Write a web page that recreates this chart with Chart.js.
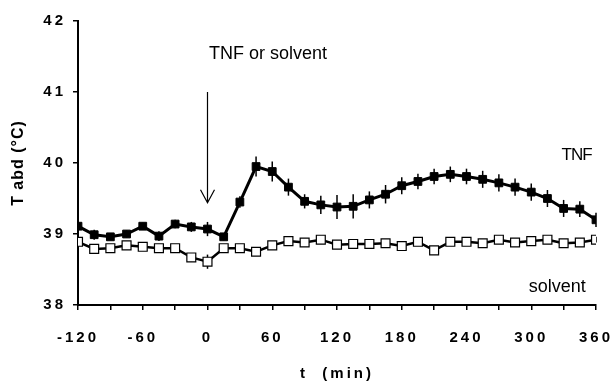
<!DOCTYPE html>
<html>
<head>
<meta charset="utf-8">
<script src="https://cdn.jsdelivr.net/npm/chart.js@4"></script>
<style>
  html, body { margin: 0; padding: 0; background: #fff; }
  #wrap { width: 610px; height: 384px; }
</style>
</head>
<body>
<div id="wrap"><canvas id="tempChart" width="610" height="384"></canvas></div>
<script>
// --- Data ---
const times = [-120, -105, -90, -75, -60, -45, -30, -15, 0, 15, 30, 45, 60, 75, 90, 105, 120,
               135, 150, 165, 180, 195, 210, 225, 240, 255, 270, 285, 300, 315, 330, 345, 360];
const tnfValues = [39.11, 38.99, 38.96, 39.00, 39.11, 38.97, 39.14, 39.10, 39.07, 38.96, 39.45,
                   39.95, 39.88, 39.66, 39.46, 39.41, 39.38, 39.39, 39.48, 39.56, 39.68, 39.74,
                   39.81, 39.84, 39.81, 39.77, 39.72, 39.66, 39.59, 39.50, 39.36, 39.35, 39.20];
const tnfErrors = [0.05, 0.07, 0.04, 0.05, 0.05, 0.07, 0.06, 0.07, 0.10, 0.05, 0.08,
                   0.14, 0.14, 0.12, 0.10, 0.13, 0.17, 0.17, 0.12, 0.13, 0.12, 0.11,
                   0.11, 0.11, 0.11, 0.12, 0.12, 0.12, 0.12, 0.12, 0.12, 0.11, 0.10];
const solventValues = [38.89, 38.79, 38.80, 38.84, 38.82, 38.80, 38.80, 38.67, 38.61, 38.80, 38.80,
                       38.75, 38.84, 38.90, 38.88, 38.92, 38.85, 38.86, 38.86, 38.87, 38.83, 38.89,
                       38.77, 38.89, 38.89, 38.87, 38.92, 38.88, 38.90, 38.92, 38.87, 38.88, 38.92];
const solventErrors = [0.05, 0.05, 0.04, 0.04, 0.04, 0.05, 0.05, 0.06, 0.10, 0.05, 0.05,
                       0.04, 0.04, 0.04, 0.04, 0.04, 0.04, 0.04, 0.04, 0.04, 0.04, 0.04,
                       0.05, 0.04, 0.04, 0.04, 0.04, 0.04, 0.04, 0.04, 0.04, 0.04, 0.04];
const xTickLabels = [-120, -60, 0, 60, 120, 180, 240, 300, 360];
const yTickLabels = [38, 39, 40, 41, 42];

// --- Helpers ---
const toPoints = (vals) => vals.map((v, i) => ({ x: times[i], y: v }));
const fontFamily = '"Liberation Sans", Arial, sans-serif';
const tickFont = { family: fontFamily, size: 15, weight: 'bold' };

// error bars, drawn under the markers
const errorBarPlugin = {
    id: 'errorBars',
    beforeDatasetsDraw(chart) {
        const ctx = chart.ctx;
        const yScale = chart.scales.y;
        const errs = [tnfErrors, solventErrors];
        ctx.save();
        ctx.strokeStyle = '#000';
        ctx.lineWidth = 1.5;
        chart.data.datasets.forEach((ds, di) => {
            const meta = chart.getDatasetMeta(di);
            meta.data.forEach((pt, i) => {
                const v = ds.data[i].y;
                const e = errs[di][i];
                ctx.beginPath();
                ctx.moveTo(pt.x, yScale.getPixelForValue(v + e));
                ctx.lineTo(pt.x, yScale.getPixelForValue(v - e));
                ctx.stroke();
            });
        });
        ctx.restore();
    }
};

// letter spacing for the bold tick labels (y title gets less)
const spacingPlugin = {
    id: 'spacing',
    beforeUpdate(chart) { chart.ctx.letterSpacing = '3px'; },
    beforeDraw(chart) {
        chart.ctx.letterSpacing = '3px';
        const ys = chart.scales.y;
        if (ys && !ys._titlePatched) {
            const orig = ys.drawTitle.bind(ys);
            ys.drawTitle = function () {
                const c = this.ctx;
                const old = c.letterSpacing;
                c.letterSpacing = '1px';
                orig();
                c.letterSpacing = old;
            };
            ys._titlePatched = true;
        }
    }
};

// arrow and text labels
const annotationPlugin = {
    id: 'notes',
    afterDraw(chart) {
        const ctx = chart.ctx;
        const xs = chart.scales.x, ys = chart.scales.y;
        ctx.save();
        ctx.letterSpacing = '0px';
        ctx.fillStyle = '#000';
        ctx.strokeStyle = '#000';
        ctx.textAlign = 'center';
        ctx.textBaseline = 'middle';
        ctx.font = '18px ' + fontFamily;
        ctx.fillText('TNF or solvent', xs.getPixelForValue(56), ys.getPixelForValue(41.54));
        ctx.fillText('solvent', xs.getPixelForValue(324), ys.getPixelForValue(38.25));
        ctx.font = '17px ' + fontFamily;
        ctx.letterSpacing = '-1px';
        ctx.fillText('TNF', xs.getPixelForValue(342), ys.getPixelForValue(40.11));

        // arrow at injection time
        const ax = xs.getPixelForValue(0);
        const y1 = ys.getPixelForValue(41.0), y2 = ys.getPixelForValue(39.44);
        ctx.lineWidth = 1.2;
        ctx.beginPath();
        ctx.moveTo(ax, y1);
        ctx.lineTo(ax, y2);
        ctx.moveTo(ax - 7, y2 - 13);
        ctx.lineTo(ax, y2);
        ctx.lineTo(ax + 7, y2 - 13);
        ctx.stroke();
        ctx.restore();
    }
};

const ctx = document.getElementById('tempChart').getContext('2d');
const tempChart = new Chart(ctx, {
    type: 'line',
    data: {
        datasets: [{
            label: 'TNF',
            data: toPoints(tnfValues),
            borderColor: '#000',
            backgroundColor: '#000',
            borderWidth: 3,
            pointStyle: 'rect',
            pointRadius: 5.5,
            pointBorderWidth: 1,
            tension: 0
        }, {
            label: 'solvent',
            data: toPoints(solventValues),
            borderColor: '#000',
            backgroundColor: '#fff',
            borderWidth: 2.5,
            pointStyle: 'rect',
            pointRadius: 6.3,
            pointBorderWidth: 1.2,
            pointBackgroundColor: '#fff',
            tension: 0
        }]
    },
    options: {
        responsive: false,
        animation: false,
        layout: { padding: { left: 4, top: 21, right: 14, bottom: 0 } },
        plugins: {
            legend: { display: false },
            tooltip: { enabled: false }
        },
        scales: {
            x: {
                type: 'linear',
                min: -120,
                max: 360,
                afterBuildTicks: (scale) => {
                    const t = [];
                    for (let v = -120; v <= 360; v += 30) t.push({ value: v });
                    scale.ticks = t;
                },
                ticks: {
                    autoSkip: false,
                    maxRotation: 0,
                    padding: 19,
                    color: '#000',
                    font: tickFont,
                    callback: (v) => xTickLabels.includes(v) ? String(v) : ''
                },
                grid: { drawOnChartArea: false, drawTicks: true, tickLength: 5, color: '#000', lineWidth: 1.5 },
                border: { display: true, color: '#000', width: 2 },
                title: { display: true, text: 't  (min)', color: '#000', font: tickFont, padding: { top: 4, bottom: 1 } },
                afterFit: (scale) => { scale.height = 79; scale.paddingLeft = 0; scale.paddingRight = 0; }
            },
            y: {
                min: 38,
                max: 42,
                afterBuildTicks: (scale) => { scale.ticks = yTickLabels.map(v => ({ value: v })); },
                ticks: { padding: 7, color: '#000', font: tickFont },
                grid: { drawOnChartArea: false, drawTicks: true, tickLength: 5, color: '#000', lineWidth: 1.5 },
                border: { display: true, color: '#000', width: 2 },
                title: { display: true, text: 'T abd (°C)', color: '#000',
                         font: { family: fontFamily, size: 16, weight: 'bold' }, padding: { top: 5, bottom: 2 } },
                afterFit: (scale) => { scale.width = 74; scale.paddingTop = 0; scale.paddingBottom = 0; }
            }
        }
    },
    plugins: [spacingPlugin, errorBarPlugin, annotationPlugin]
});
</script>
</body>
</html>
